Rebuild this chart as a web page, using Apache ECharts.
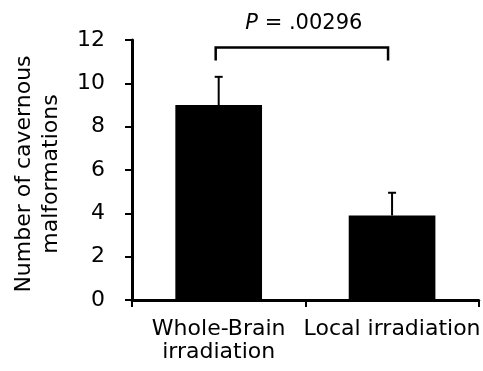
<!DOCTYPE html>
<html>
<head>
<meta charset="utf-8">
<script src="https://cdn.jsdelivr.net/npm/echarts@6/dist/echarts.min.js"></script>
<style>
  html, body { margin: 0; padding: 0; background: #fff; }
  #chart { width: 483px; height: 371px; }
</style>
</head>
<body>
<div id="chart"></div>
<script>
  // data
  const categories = ['Whole-Brain\nirradiation', 'Local irradiation']
  const means = [9.0, 3.9]
  const errors = [1.3, 1.05]      // upper error only
  const yMax = 12
  const yStep = 2
  const bracketLevels = [11.05, 11.65]   // foot, top of the significance bracket
  const pValue = '.00296'

  const font = 'DejaVu Sans'
  const chart = echarts.init(document.getElementById('chart'))

  const option = {
    animation: false,
    grid: { left: 132, right: 2, top: 40, bottom: 71 },
    xAxis: {
      type: 'category',
      data: categories,
      axisLine: { lineStyle: { color: '#000', width: 3 } },
      axisTick: { show: true, length: 7, lineStyle: { color: '#000', width: 2 } },
      axisLabel: {
        interval: 0,
        color: '#000', fontFamily: font, fontSize: 22, lineHeight: 23, margin: 18
      }
    },
    yAxis: {
      type: 'value',
      min: 0,
      max: yMax,
      interval: yStep,
      name: 'Number of cavernous\nmalformations',
      nameLocation: 'middle',
      nameGap: 67,
      nameTextStyle: {
        color: '#000', fontFamily: font, fontSize: 22, lineHeight: 27,
        padding: [0, 8, 0, 0]
      },
      axisLine: { show: true, lineStyle: { color: '#000', width: 3 } },
      axisTick: { show: true, length: 7, lineStyle: { color: '#000', width: 2 } },
      axisLabel: { color: '#000', fontFamily: font, fontSize: 22, margin: 27 },
      splitLine: { show: false }
    },
    series: [
      {
        type: 'bar',
        data: means,
        barWidth: '50%',
        itemStyle: { color: '#000' }
      },
      {
        // error bars, upper half only
        type: 'custom',
        data: means.map((m, i) => [i, m, errors[i]]),
        z: 3,
        renderItem: function (params, api) {
          const base = api.coord([api.value(0), api.value(1)])
          const top = api.coord([api.value(0), api.value(1) + api.value(2)])
          const st = { stroke: '#000', lineWidth: 2 }
          return {
            type: 'group',
            children: [
              { type: 'line', shape: { x1: base[0], y1: base[1], x2: top[0], y2: top[1] }, style: st },
              { type: 'line', shape: { x1: top[0] - 4, y1: top[1], x2: top[0] + 4, y2: top[1] }, style: st }
            ]
          }
        }
      },
      {
        // significance bracket + p label
        type: 'custom',
        data: [[0, 1]],
        z: 3,
        renderItem: function (params, api) {
          const a = api.coord([api.value(0), bracketLevels[1]])
          const b = api.coord([api.value(1), bracketLevels[1]])
          const foot = api.coord([0, bracketLevels[0]])[1]
          const x1 = a[0] - 3
          const x2 = b[0] - 4
          return {
            type: 'group',
            children: [
              {
                type: 'polyline',
                shape: { points: [[x1, foot], [x1, a[1]], [x2, a[1]], [x2, foot]] },
                style: { stroke: '#000', lineWidth: 2.5, fill: null }
              },
              {
                type: 'text',
                x: (x1 + x2) / 2 + 2,
                y: a[1] - 24,
                style: {
                  text: '{i|P}{n| = ' + pValue + '}',
                  fill: '#000',
                  fontFamily: font,
                  fontSize: 21,
                  align: 'center',
                  verticalAlign: 'middle',
                  rich: {
                    i: { fontStyle: 'italic', fontFamily: font, fontSize: 21, fill: '#000' },
                    n: { fontFamily: font, fontSize: 21, fill: '#000' }
                  }
                }
              }
            ]
          }
        }
      }
    ]
  }

  chart.setOption(option)
</script>
</body>
</html>
